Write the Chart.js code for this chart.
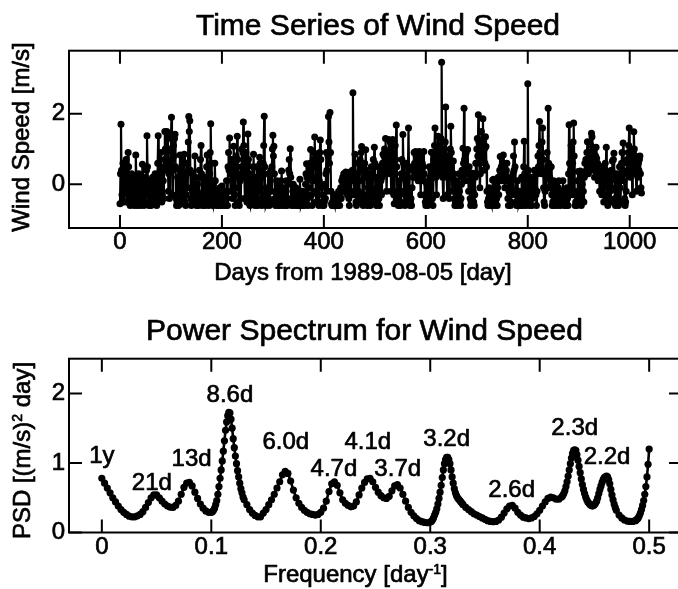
<!DOCTYPE html>
<html><head><meta charset="utf-8">
<script src="https://cdn.jsdelivr.net/npm/chart.js@4.4.1/dist/chart.umd.min.js"></script>
<style>
html,body{margin:0;padding:0;background:#fff;width:678px;height:589px;overflow:hidden;position:relative}
canvas{position:absolute;left:0;display:block}
#c1{top:0}
#c2{top:300px}
</style></head><body>
<canvas id="c1" width="700" height="300"></canvas>
<canvas id="c2" width="700" height="289"></canvas>
<script>
const FONT = '"Liberation Sans", Arial, Helvetica, sans-serif';
const TEXT_STROKE = 0.7;

// ---------- DATA: daily wind speed anomaly [m/s], day 0 .. 1023 ----------
const windSpeed = [
-.55,.3,1.7,.4,-.3,-.5,.6,-.1,-.5,.1,.6,.2,.7,-.2,-.5,.3,.9,.5,-.3,-.55,-.6,.1,-.4,.3,-.5,-.2,.2,-.5,-.6,-.3,.1,.83,
.2,-.4,-.6,-.5,0,.3,-.3,-.55,-.6,-.2,.1,-.3,.57,.2,-.4,-.6,-.5,-.1,.2,-.3,.4,1.38,.5,-.2,-.55,-.6,-.3,.1,-.4,-.6,-.5,-.1,
.2,0,-.3,-.5,.1,.3,-.2,-.5,-.6,0,.6,1.38,.3,-.4,-.2,.4,.9,.2,-.5,-.3,.5,.1,-.4,.7,1.5,1.0,.4,.9,1.5,1.4,.6,-.2,
.3,-.4,.5,1.0,1.3,1.9,.7,-.3,.4,1.1,.8,1.3,1.42,.5,-.4,-.6,-.5,.2,-.3,-.6,-.1,.4,.83,.3,-.4,-.55,.2,.7,-.2,.3,.85,.2,
-.5,-.6,-.3,.3,.6,-.1,1.2,1.92,1.5,1.8,.4,-.4,-.6,-.55,-.2,.3,-.3,-.5,.1,.8,.2,-.5,-.6,-.4,0,-.5,-.6,-.3,.4,.2,.7,1.1,
.3,-.4,-.6,-.5,-.2,.1,-.4,-.6,-.3,.2,.5,.83,.1,-.5,-.6,-.4,.3,.9,1.72,.6,-.2,-.55,-.6,-.3,.1,-.2,.6,.1,-.5,-.6,-.55,-.4,
-.2,-.5,-.6,-.3,-.1,-.5,-.6,-.4,-.05,-.3,-.55,-.6,-.5,-.2,-.6,-.5,-.3,.1,-.4,-.6,.5,.9,.4,1.31,.5,-.2,.3,.7,.1,-.4,.4,1.08,
.6,-.3,-.6,.2,.8,.5,1.36,.7,-.1,-.5,-.6,.3,.1,-.4,.5,1.0,.3,.9,1.77,1.1,.2,-.4,.4,.9,.2,-.5,.6,1.43,.7,-.2,-.55,-.6,
-.3,.3,.1,-.4,.2,.5,.85,.2,-.5,-.6,-.3,.1,.5,-.2,-.6,-.5,0,.4,.77,.6,-.1,-.5,-.6,-.4,.2,.6,1.1,1.93,.5,-.3,-.6,-.55,
-.2,-.5,-.1,.3,-.4,-.6,-.5,.1,.4,-.2,.5,1.0,1.39,.8,1.08,.3,-.4,-.6,-.55,-.3,.1,-.5,-.6,-.4,0,-.3,-.6,-.5,.1,.38,-.1,-.5,
-.6,-.4,-.1,-.5,-.6,-.3,.1,-.4,-.6,-.5,0,.4,.7,.3,1.01,.2,-.4,-.6,-.5,-.2,0,-.3,-.6,-.55,-.4,-.1,-.5,-.6,-.3,-.5,-.2,-.6,
-.4,.14,-.3,-.6,-.55,-.5,-.2,-.6,-.5,-.3,-.6,-.4,0,.3,.58,.2,-.4,-.6,-.1,.5,.2,.6,.99,.3,-.3,-.6,.1,.7,.9,.5,1.34,.6,
-.2,-.5,.2,.8,.4,-.3,-.6,.1,.9,1.26,.7,-.1,-.5,-.6,-.55,-.3,-.6,-.5,0,-.4,.3,.9,.4,-.2,.8,1.92,1.2,.6,2.04,.9,-.2,-.55,
-.6,-.5,-.6,-.4,-.55,-.6,-.3,-.5,-.6,-.55,-.4,-.6,-.5,-.2,-.4,-.6,-.3,-.1,-.4,.1,-.2,.2,0,.3,.1,-.2,.3,.35,-.1,.2,-.3,.3,
.1,-.4,-.6,.2,.35,-.2,.3,.1,.4,2.6,.3,-.3,.2,.85,.1,-.5,-.6,-.3,.3,.6,-.2,-.5,.1,.7,.4,.9,1.07,.5,-.3,-.6,-.4,.2,
.6,.3,.98,.4,-.3,-.6,-.5,-.1,.3,-.2,-.5,-.6,.1,.5,-.1,-.4,.2,.7,.5,1.05,.6,-.2,-.5,-.6,-.3,.2,.5,.1,-.4,-.6,-.2,.4,
.1,-.3,.2,.6,.85,.3,.8,1.0,.6,1.3,.5,-.2,.4,.9,.6,1.27,.8,.3,1.2,.6,-.2,.5,.9,1.27,.4,-.3,-.55,.3,1.1,.7,1.68,.5,
-.2,-.5,-.6,-.4,.1,-.3,-.6,-.2,.3,.7,.2,1.41,.6,-.2,-.5,-.6,-.3,.2,.6,.1,-.4,.5,1.6,.5,-.3,-.6,-.5,-.4,-.6,-.1,.4,.2,
.5,.9,.6,.2,.93,.8,.4,.9,.6,.1,.5,.93,.7,.2,-.3,.4,.9,.6,.1,.5,.93,.3,-.3,-.5,-.6,-.4,0,-.3,-.6,-.5,.1,.5,
.2,-.3,.4,.91,.3,-.4,-.6,.2,.7,1.1,1.6,.8,.2,-.3,.5,1.0,1.36,.9,.3,.8,1.1,.4,1.3,3.46,1.0,.2,-.4,.3,.9,.4,1.2,2.19,
.8,.2,-.3,.3,.7,.2,-.4,.4,1.0,1.65,.9,.3,-.2,.2,.66,.3,-.4,-.6,-.5,-.2,.1,-.3,-.6,-.55,-.1,.3,-.2,-.5,-.6,-.4,0,.4,
.2,1.02,.6,2.16,.7,.1,.5,.89,.3,.5,.99,.4,-.2,.5,.1,-.4,-.6,-.5,-.1,.2,.31,-.2,-.5,-.6,-.3,.2,.6,.3,1.0,1.3,.8,1.97,
1.2,.6,-.1,.3,.9,1.5,.7,1.2,1.86,.9,.4,1.0,.6,1.35,1.07,.5,-.2,-.5,-.6,-.4,-.1,-.5,-.6,-.3,-.55,-.6,-.2,.12,-.3,.14,-.4,-.6,
-.5,-.3,0,-.4,-.6,-.1,.2,-.3,.1,.4,.79,.3,.5,.1,.4,.6,.83,.2,.5,-.1,.3,.1,.4,.6,.2,-.4,-.6,-.2,.1,-.3,-.6,-.5,
-.1,.2,-.3,.3,.8,.4,1.2,.5,-.2,-.5,-.6,-.3,.1,-.4,-.6,-.55,-.2,-.5,-.6,-.4,.2,-.3,-.6,-.2,.5,1.22,.3,-.4,-.6,-.5,.4,.3,
2.85,.4,-.3,-.6,-.5,-.2,.2,-.3,-.6,-.4,.1,-.2,.2,.4,-.1,.36,-.3,-.6,-.2,.3,.8,.5,1.1,1.78,.9,.4,.8,.3,1.2,1.6,.7,-.1,
-.5,-.6,-.2,.3,-.1,.4,.9,.5,2.16,.6,-.1,.2,.5,.1,.5,-.3,-.6,-.5,-.2,.1,-.4,-.6,-.3,0,-.2,-.5,-.6,-.4,-.1,.1,-.3,-.5,
-.6,-.4,-.2,-.5,-.3,.1,-.2,-.5,-.6,-.55,-.3,-.6,-.5,-.1,-.4,-.6,.3,1.69,.6,-.2,.4,1.1,.5,-.3,.6,1.2,1.74,.8,-.2,-.6,-.5,-.3,
-.6,-.2,.1,.36,-.3,-.5,.1,.38,-.2,-.6,-.4,0,.3,-.2,-.5,.2,.6,.3,.7,.4,.9,1.21,.6,.3,.7,.5,.9,.6,1.1,1.45,1.35,.7,
.9,.4,.6,.2,.5,.8,1.05,.74,.3,.6,.1,.5,.2,-.2,.4,.5,.1,-.3,.3,.5,-.1,-.5,-.3,.2,.6,.4,1.05,.3,-.3,-.6,-.4,0,
.3,-.2,-.5,.1,.4,-.1,.66,.2,.7,.88,.3,-.4,-.6,-.5,-.2,.3,.1,-.4,-.6,.2,.5,-.1,-.5,.2,.6,.9,.4,1.17,.6,.1,-.4,-.6,
-.5,-.2,.3,.7,.4,.9,1.1,1.6,.8,.2,.6,1.0,.5,-.3,.4,.9,1.49,1.0,.5,.8,.3,-.2,.5,.7,.2,.6,.4,.7,.8,.3,-.1,-.25
];
const dayTicks  = [0, 200, 400, 600, 800, 1000];
const windTicks = [0, 2];

// ---------- DATA: power spectrum ----------
const freq = [
0,.0025,.005,.0075,.01,.0125,.015,.0175,.02,.0225,.025,.0275,.03,.0325,.035,.0375,.04,.0425,.045,.0475,.05,.0525,.055,.0575,.06,.0625,.065,.0675,.07,.0725,.075,.0775,.08,.0825,.085,.0875,.09,.0925,.095,.0975,
.1,.101,.102,.103,.104,.105,.106,.107,.108,.109,.11,.111,.112,.113,.114,.115,.116,.117,.118,.119,.12,.121,.122,.123,.124,.125,.126,.127,.128,.129,.13,
.1325,.135,.1375,.14,.1425,.145,.1475,.15,.1525,.155,.1575,.16,.1625,.165,.1675,.17,.1725,.175,.1775,.18,.1825,.185,.1875,.19,.1925,.195,.1975,.2,.2025,.205,.2075,.21,.2125,.215,.2175,.22,.2225,.225,.2275,.23,.2325,.235,.2375,.24,.2425,.245,.2475,.25,.2525,.255,.2575,.26,.2625,.265,.2675,.27,.2725,.275,.2775,.28,.2825,.285,.2875,.29,.2925,.295,.2975,
.3,.301,.302,.303,.304,.305,.306,.307,.308,.309,.31,.311,.312,.313,.314,.315,.316,.317,.318,.319,.32,.321,.322,.323,.324,.325,.326,.327,.328,.329,.33,
.3325,.335,.3375,.34,.3425,.345,.3475,.35,.3525,.355,.3575,.36,.3625,.365,.3675,.37,.3725,.375,.3775,.38,.3825,.385,.3875,.39,.3925,.395,.3975,.4,.4025,.405,.4075,.41,.4125,.415,.4175,
.42,.421,.422,.423,.424,.425,.426,.427,.428,.429,.43,.431,.432,.433,.434,.435,.436,.437,.438,.439,.44,.441,.442,.443,.444,.445,.446,.447,.448,.449,.45,.451,.452,.453,.454,.455,.456,.457,.458,.459,.46,.461,.462,.463,.464,.465,.466,.467,.468,.469,.47,
.4725,.475,.4775,.48,.4825,.485,.4875,
.488,.489,.49,.491,.492,.493,.494,.495,.496,.497,.498,.499,.5
];
const psd = [
.78,.71,.64,.57,.50,.44,.38,.33,.29,.26,.235,.225,.225,.24,.26,.30,.36,.43,.50,.54,.54,.50,.45,.41,.38,.365,.36,.39,.45,.55,.65,.71,.72,.67,.58,.49,.41,.35,.31,.29,
.29,.30,.32,.35,.40,.46,.55,.66,.78,.90,1.03,1.17,1.32,1.47,1.59,1.68,1.73,1.72,1.63,1.50,1.35,1.22,1.10,.99,.89,.80,.71,.63,.57,.51,.47,
.40,.33,.28,.245,.225,.225,.28,.33,.40,.47,.55,.64,.73,.83,.88,.85,.74,.61,.50,.42,.36,.32,.29,.27,.26,.25,.26,.29,.35,.45,.59,.70,.73,.68,.57,.47,.42,.39,.37,.38,.44,.54,.64,.72,.77,.78,.73,.65,.58,.53,.50,.49,.52,.60,.67,.69,.64,.55,.45,.36,.29,.24,.20,.17,.155,.145,.14,
.15,.16,.18,.21,.25,.29,.34,.41,.49,.58,.68,.79,.90,.99,1.05,1.08,1.08,1.05,.99,.90,.80,.71,.63,.57,.53,.50,.48,.46,.44,.42,.40,
.36,.33,.30,.27,.25,.23,.21,.19,.17,.16,.155,.16,.18,.22,.28,.34,.38,.39,.35,.29,.25,.22,.21,.20,.21,.23,.27,.32,.38,.44,.49,.51,.50,.48,.48,
.51,.53,.56,.60,.66,.73,.81,.90,.99,1.07,1.14,1.18,1.19,1.18,1.12,1.04,.95,.86,.77,.69,.62,.56,.51,.47,.44,.42,.40,.39,.38,.385,.40,.42,.45,.50,.56,.62,.67,.72,.76,.79,.80,.81,.80,.76,.70,.62,.54,.47,.41,.36,.32,
.25,.21,.18,.165,.16,.16,.17,
.18,.19,.21,.24,.28,.33,.39,.46,.55,.66,.80,.98,1.2
];
const freqTicks = [0, 0.1, 0.2, 0.3, 0.4, 0.5];
const psdTicks  = [0, 1, 2];
const peakLabels = ['1y','21d','13d','8.6d','6.0d','4.7d','4.1d','3.7d','3.2d','2.6d','2.3d','2.2d'];

if (freq.length !== psd.length) console.error('freq/psd length mismatch', freq.length, psd.length);

// ---------- plugins ----------
function put(ctx, t, x, y) {
  ctx.fillText(t, x, y);
  ctx.strokeText(t, x, y);
}
function drawParts(ctx, parts, cx, y, size) {
  const supSize = Math.round(size * 0.6);
  const widths = parts.map(([t, s]) => { ctx.font = `${s ? supSize : size}px ${FONT}`; return ctx.measureText(t).width; });
  const total = widths.reduce((a, b) => a + b, 0);
  let x = cx - total / 2;
  ctx.textAlign = 'left'; ctx.textBaseline = 'alphabetic';
  parts.forEach(([t, s], i) => {
    ctx.font = `${s ? supSize : size}px ${FONT}`;
    put(ctx, t, x, s ? y - size * 0.32 : y);
    x += widths[i];
  });
}

const framePlugin = {
  id: 'frame',
  afterDraw(chart, args, o) {
    const { ctx, chartArea: a, scales } = chart;
    const L = o.tickLen;
    ctx.save();
    ctx.strokeStyle = '#000'; ctx.lineWidth = o.lineWidth;
    ctx.strokeRect(a.left, a.top, a.right - a.left, a.bottom - a.top);
    ctx.beginPath();
    scales.x.ticks.forEach(t => {
      const px = scales.x.getPixelForValue(t.value);
      ctx.moveTo(px, a.bottom); ctx.lineTo(px, a.bottom - L);
      ctx.moveTo(px, a.top); ctx.lineTo(px, a.top + L);
    });
    scales.y.ticks.forEach(t => {
      const py = scales.y.getPixelForValue(t.value);
      ctx.moveTo(a.left, py); ctx.lineTo(a.left + L, py);
      ctx.moveTo(a.right, py); ctx.lineTo(a.right - L, py);
    });
    ctx.stroke();
    ctx.restore();
  }
};

const textPlugin = {
  id: 'texts',
  afterDraw(chart, args, o) {
    const ctx = chart.ctx;
    ctx.save();
    ctx.fillStyle = '#000'; ctx.strokeStyle = '#000'; ctx.lineWidth = TEXT_STROKE; ctx.lineJoin = 'round';
    ctx.font = `${o.title.size}px ${FONT}`;
    ctx.textAlign = 'center'; ctx.textBaseline = 'alphabetic';
    put(ctx, o.title.text, o.title.x, o.title.y);
    drawParts(ctx, o.xTitle.parts, o.xTitle.x, o.xTitle.y, o.xTitle.size);
    ctx.save();
    ctx.translate(o.yTitle.x, o.yTitle.y);
    ctx.rotate(-Math.PI / 2);
    drawParts(ctx, o.yTitle.parts, 0, 0, o.yTitle.size);
    ctx.restore();
    if (o.peaks) {
      const sx = chart.scales.x, sy = chart.scales.y;
      ctx.font = `${o.peaks.size}px ${FONT}`;
      ctx.textAlign = 'center'; ctx.textBaseline = 'alphabetic';
      o.peaks.labels.forEach((t, i) => {
        const [f, v] = o.peaks.anchors[i];
        put(ctx, t, sx.getPixelForValue(f), sy.getPixelForValue(v));
      });
    }
    ctx.restore();
  }
};

Chart.defaults.font.family = FONT;
Chart.defaults.color = '#000';

function tickOpts(pad) {
  return { font: { family: FONT, size: 24, lineHeight: 1.2 }, color: '#000', padding: pad, maxRotation: 0,
           autoSkip: false, textStrokeColor: '#000', textStrokeWidth: TEXT_STROKE, callback: v => String(v) };
}

// ---------- top chart ----------
new Chart(document.getElementById('c1'), {
  type: 'line',
  data: {
    datasets: [{
      data: windSpeed.map((v, i) => ({ x: i, y: v })),
      borderColor: '#000', backgroundColor: '#000',
      borderWidth: 2.2, pointRadius: 3.5, pointBorderWidth: 0, pointHoverRadius: 0,
      tension: 0
    }]
  },
  options: {
    responsive: false, animation: false, devicePixelRatio: 1, events: [],
    layout: { padding: { top: 50.7, right: 19.3, left: 0, bottom: 0 } },
    plugins: {
      legend: { display: false }, tooltip: { enabled: false },
      frame: { tickLen: 13, lineWidth: 2 },
      texts: {
        title: { text: 'Time Series of Wind Speed', x: 378, y: 34.5, size: 30 },
        xTitle: { parts: [['Days from 1989-08-05 [day]', 0]], x: 363, y: 280, size: 24 },
        yTitle: { parts: [['Wind Speed [m/s]', 0]], x: 29, y: 137, size: 24 }
      }
    },
    scales: {
      x: {
        type: 'linear', min: -100, max: 1100,
        afterBuildTicks: s => { s.ticks = dayTicks.map(v => ({ value: v })); },
        afterFit: s => { s.height = 72; },
        grid: { display: false, drawTicks: false }, border: { display: false },
        ticks: tickOpts(0)
      },
      y: {
        type: 'linear', min: -1.24, max: 3.79,
        afterBuildTicks: s => { s.ticks = windTicks.map(v => ({ value: v })); },
        afterFit: s => { s.width = 69; },
        grid: { display: false, drawTicks: false }, border: { display: false },
        ticks: tickOpts(4)
      }
    }
  },
  plugins: [framePlugin, textPlugin]
});

// ---------- bottom chart ----------
new Chart(document.getElementById('c2'), {
  type: 'line',
  data: {
    datasets: [{
      data: freq.map((f, i) => ({ x: f, y: psd[i] })),
      borderColor: '#000', backgroundColor: '#000',
      borderWidth: 2.6, pointRadius: 3.6, pointBorderWidth: 0, pointHoverRadius: 0,
      tension: 0
    }]
  },
  options: {
    responsive: false, animation: false, devicePixelRatio: 1, events: [],
    layout: { padding: { top: 58.7, right: 18, left: 0, bottom: 0 } },
    plugins: {
      legend: { display: false }, tooltip: { enabled: false },
      frame: { tickLen: 13, lineWidth: 2 },
      texts: {
        title: { text: 'Power Spectrum for Wind Speed', x: 364.5, y: 40.3, size: 30 },
        xTitle: { parts: [['Frequency [day', 0], ['-1', 1], [']', 0]], x: 355.5, y: 282, size: 24 },
        yTitle: { parts: [['PSD [(m/s)', 0], ['2', 1], [' day]', 0]], x: 30, y: 150.5, size: 24 },
        peaks: {
          size: 24,
          labels: peakLabels,
          anchors: [[0.0, 1.0], [0.0457, 0.61], [0.082, 0.95], [0.117, 1.88], [0.168, 1.2], [0.212, 0.815],
                    [0.243, 1.2], [0.2703, 0.815], [0.315, 1.25], [0.3744, 0.515], [0.432, 1.40], [0.4615, 0.98]]
        }
      }
    },
    scales: {
      x: {
        type: 'linear', min: -0.03, max: 0.53,
        afterBuildTicks: s => { s.ticks = freqTicks.map(v => ({ value: v })); },
        afterFit: s => { s.height = 56.5; },
        grid: { display: false, drawTicks: false }, border: { display: false },
        ticks: tickOpts(0)
      },
      y: {
        type: 'linear', min: 0, max: 2.5,
        afterBuildTicks: s => { s.ticks = psdTicks.map(v => ({ value: v })); },
        afterFit: s => { s.width = 69; },
        grid: { display: false, drawTicks: false }, border: { display: false },
        ticks: tickOpts(4)
      }
    }
  },
  plugins: [framePlugin, textPlugin]
});
</script>
</body></html>
